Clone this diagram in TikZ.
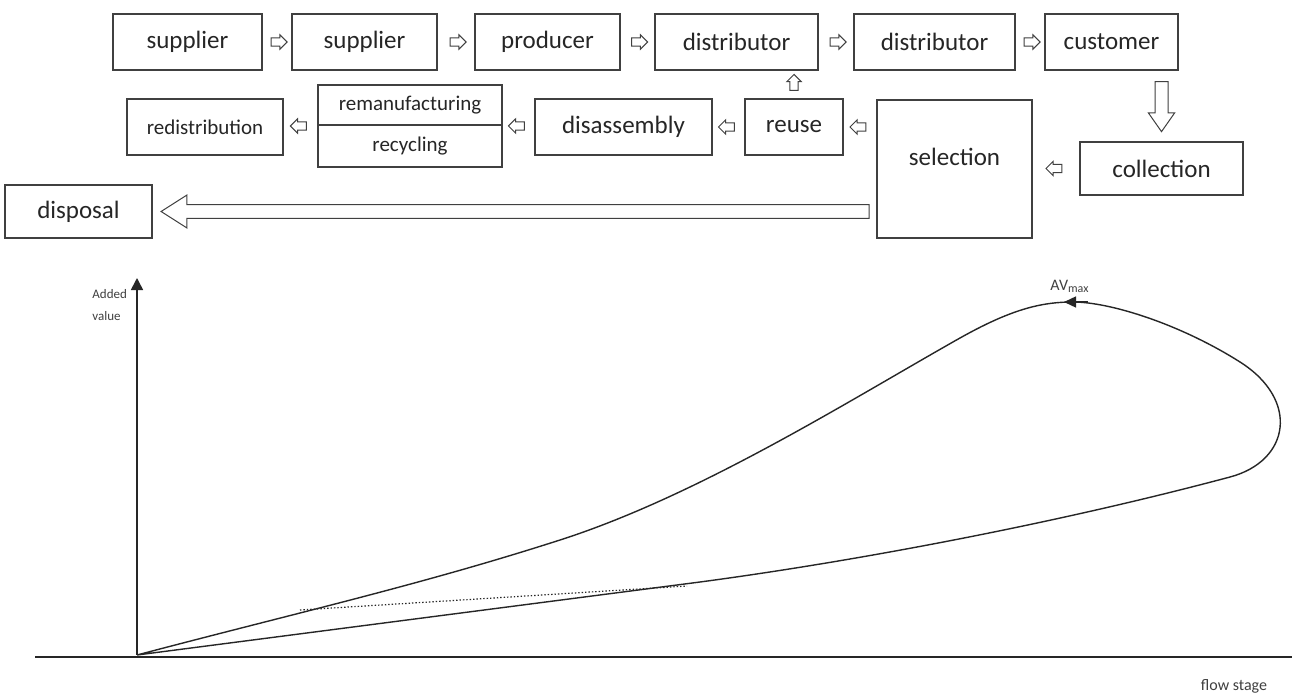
\documentclass[tikz,border=0pt]{standalone}
\usepackage{fontspec}
\setmainfont{Carlito}
\usetikzlibrary{calc, positioning, shapes, arrows.meta}
\tikzstyle{stage}=[draw=black!75, line width=0.6pt, inner sep=0pt, outer sep=0pt, minimum height=28pt, text=black!85, font=\fontsize{12.5}{15}\selectfont]
\tikzstyle{small stage}=[stage, font=\fontsize{10.5}{12}\selectfont]
\tikzstyle{flow arrow}=[single arrow, draw=black!75, line width=0.5pt, inner sep=1.8pt, single arrow head extend=1.5pt, minimum height=8pt]
\tikzstyle{left arrow}=[flow arrow, shape border rotate=180]
\tikzstyle{up arrow}=[flow arrow, shape border rotate=90]
\tikzstyle{down arrow}=[flow arrow, shape border rotate=270, inner sep=3pt, single arrow head extend=3.3pt, single arrow tip angle=70, minimum height=25pt]
\tikzstyle{big arrow}=[flow arrow, shape border rotate=180, inner sep=3.2pt, single arrow head extend=4.8pt, single arrow tip angle=65, minimum height=354pt]
\tikzstyle{axis}=[line width=0.8pt, black!85]
\tikzstyle{curve}=[line width=0.7pt, black!85]
\tikzstyle{annot}=[font=\fontsize{6.5}{11}\selectfont, text=black!75, inner sep=0pt]

\begin{document}
\begin{tikzpicture}[x=0.5pt, y=-0.5pt]
		\path[use as bounding box, fill=white] (0,0) rectangle (1294,695);
		% Draw the forward chain
		\node[stage, minimum width=74.5pt] (sup1) at (187.5,42) {supplier};
		\node[stage, minimum width=72.5pt] (sup2) at (364.5,42) {supplier};
		\node[stage, minimum width=72.5pt] (prod) at (547.5,42) {producer};
		\node[stage, minimum width=81.5pt] (dist1) at (736.5,42) {distributor};
		\node[stage, minimum width=80.5pt] (dist2) at (934.5,42) {distributor};
		\node[stage, minimum width=66.5pt] (cust) at (1111.5,42) {customer};

		% Draw the return chain
		\node[small stage, minimum width=78pt] (redis) at (205,127) {redistribution};
		\node[small stage, minimum width=92pt, minimum height=20pt] (reman) at (410,105) {remanufacturing};
		\node[small stage, minimum width=92pt, minimum height=21pt, below=0pt of reman] (recyc) {recycling};
		\node[stage, minimum width=88.5pt] (disas) at (623.5,127) {disassembly};
		\node[stage, minimum width=49pt] (reuse) at (794,127) {reuse};
		\node[stage, minimum width=77.5pt, minimum height=69pt, text depth=12pt] (sel) at (954.5,169) {selection};
		\node[stage, minimum width=81.5pt, minimum height=26.5pt] (coll) at (1161.5,168.5) {collection};
		\node[stage, minimum width=73.5pt, minimum height=26.5pt] (disp) at (78.5,211.5) {disposal};

		% Arrows of the forward chain
		\node[flow arrow] (a1) at ($(sup1.east)!0.5!(sup2.west)$) {};
		\node[flow arrow] (a2) at ($(sup2.east)!0.5!(prod.west)$) {};
		\node[flow arrow] (a3) at ($(prod.east)!0.5!(dist1.west)$) {};
		\node[flow arrow] (a4) at ($(dist1.east)!0.5!(dist2.west)$) {};
		\node[flow arrow] (a5) at ($(dist2.east)!0.5!(cust.west)$) {};
		\node[down arrow, yshift=2pt] (a6) at ($(coll.north)!0.5!(coll.north |- cust.south)$) {};

		% Arrows of the return chain
		\node[left arrow] (b1) at ($(sel.east |- coll.west)!0.5!(coll.west)$) {};
		\node[left arrow] (b2) at ($(reuse.east)!0.5!(sel.west |- reuse.east)$) {};
		\node[left arrow] (b3) at ($(disas.east)!0.5!(reuse.west)$) {};
		\node[left arrow] (b4) at ($(reman.south east)!0.5!(disas.west)$) {};
		\node[left arrow] (b5) at ($(redis.east)!0.5!(reman.south west)$) {};
		\node[up arrow] (b6) at ($(reuse.north)!0.5!(reuse.north |- dist1.south)$) {};
		\node[big arrow, xshift=3pt] (b7) at ($(disp.east)!0.5!(sel.west |- disp.east)$) {};

		% Draw the axes
		\coordinate (O) at (137,655);
		\coordinate (ytop) at (137,278);
		\coordinate (xl) at (35,657);
		\coordinate (xr) at (1292,657);
		\draw[axis, -{Triangle[length=6pt, width=6pt]}] (O) -- (ytop);
		\draw[axis] (xl) -- (xr);
		\node[annot, anchor=north west, align=left] (ylab) at (92,289) {Added\\value};
		\node[annot, font=\fontsize{8}{9}\selectfont] (xlab) at (1234,686) {flow stage};

		% Added value along the flow
		\draw[curve] (O) -- (700,582) .. controls (850,562) and (1050,525) .. (1230,477)
			.. controls (1290,461) and (1300,400) .. (1240,362)
			.. controls (1180,324) and (1110,302) .. (1073,302)
			.. controls (1040,302) and (1010,310) .. (960,338)
			.. controls (850,400) and (700,495) .. (560,540)
			.. controls (420,585) and (300,612) .. (O);
		\draw[curve, -{Triangle[length=6pt, width=5.5pt]}] (1088,302) -- (1064,302);
		\draw[curve, densely dotted, line width=0.6pt] (300,610) -- (687,586);
		\node[annot, font=\fontsize{8}{9}\selectfont] (avmax) at (1070,286) {AV\textsubscript{max}};
	\end{tikzpicture}
\end{document}
